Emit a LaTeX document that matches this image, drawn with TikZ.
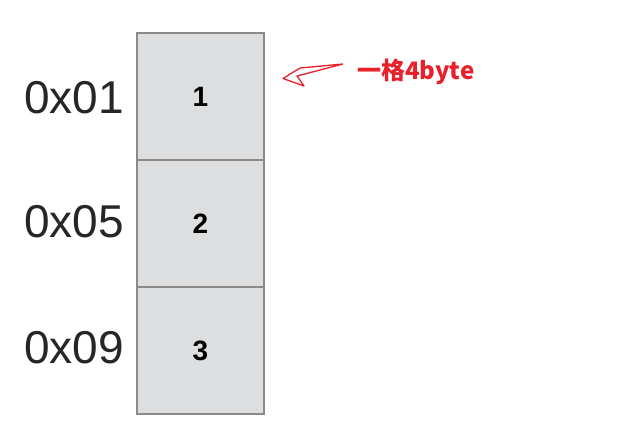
\documentclass[tikz,border=0pt]{standalone}
\usepackage{fontspec}
\setmainfont{Liberation Sans}
\newfontfamily\cjkfont{Noto Sans CJK SC}
\usetikzlibrary{positioning}
\definecolor{cellgray}{HTML}{DDDEDF}
\definecolor{edgegray}{HTML}{8A8A8A}
\definecolor{notered}{HTML}{E8202A}
\tikzset{
  cell/.style={draw=edgegray, fill=cellgray, line width=1.6pt, minimum width=127pt,
    minimum height=127pt, inner sep=0pt, outer sep=0pt, font=\fontsize{28}{28}\selectfont\bfseries},
  addr/.style={font=\fontsize{46}{46}\selectfont, text=black!85, anchor=east, inner sep=0pt}
}

\begin{document}
\begin{tikzpicture}[x=1pt,y=-1pt]
          \useasboundingbox (0,0) rectangle (621,421);
          \node[cell] (c1) at (200.5,96.5) {1};
          \node[cell, below=0pt of c1] (c2) {2};
          \node[cell, below=0pt of c2] (c3) {3};

          \node[addr] (a1) at (124,98) {0x01};
          \node[addr] (a2) at (124,222) {0x05};
          \node[addr] (a3) at (124,348) {0x09};

          \node[text=notered, anchor=west, inner sep=0pt, font=\cjkfont\fontsize{24}{24}\selectfont\bfseries]
            (note) at (357,72) {一格4byte};
          \coordinate (tail) at (343,64);
          \coordinate (tip) at ([xshift=19pt,yshift=18pt]c1.east);
          \draw[notered, line width=1.3pt, line join=round]
            (tail) -- (300,68) -- (tip) -- (304,86) -- (297,76) -- (tail);
        \end{tikzpicture}
\end{document}
